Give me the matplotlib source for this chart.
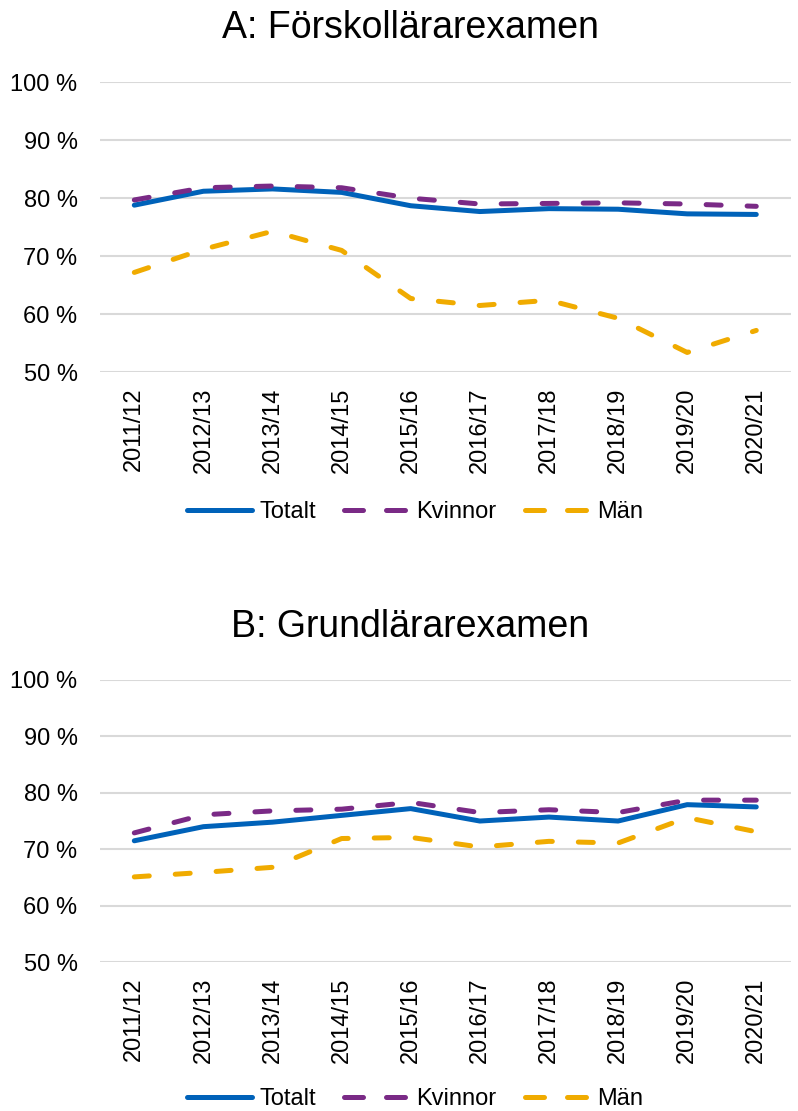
import matplotlib.pyplot as plt
from matplotlib.lines import Line2D

plt.rcParams['font.family'] = ['Liberation Sans', 'DejaVu Sans']

years = ["2011/12", "2012/13", "2013/14", "2014/15", "2015/16",
         "2016/17", "2017/18", "2018/19", "2019/20", "2020/21"]

# A: Förskollärarexamen
a_totalt = [78.8, 81.2, 81.6, 81.0, 78.7, 77.7, 78.2, 78.1, 77.3, 77.2]
a_kvinnor = [79.7, 81.8, 82.1, 81.8, 80.0, 79.0, 79.1, 79.2, 79.0, 78.6]
a_man = [67.2, 71.2, 74.3, 71.0, 62.7, 61.5, 62.4, 59.3, 53.4, 57.2]

# B: Grundlärarexamen
b_totalt = [71.5, 74.0, 74.8, 76.0, 77.2, 75.0, 75.7, 75.0, 77.9, 77.5]
b_kvinnor = [72.9, 76.1, 76.8, 77.1, 78.3, 76.5, 77.0, 76.5, 78.7, 78.7]
b_man = [65.1, 65.9, 66.8, 71.9, 72.1, 70.4, 71.4, 71.1, 75.6, 73.1]

blue = "#0062B9"
purple = "#7A2A86"
yellow = "#F0AB00"
lw = 3.6
dash = (3, 5.2)
leg_dash = (3.8, 4.6)
fs = 17

fig = plt.figure(figsize=(7.98, 11.11), dpi=100)


def draw(rect, totalt, kvinnor, man, title, title_y, legend_y):
    ax = fig.add_axes(rect)
    x = range(len(years))
    ax.plot(x, totalt, color=blue, lw=lw, solid_capstyle='round', zorder=3)
    ax.plot(x, kvinnor, color=purple, lw=lw, dashes=dash,
            dash_capstyle='round', zorder=3)
    ax.plot(x, man, color=yellow, lw=lw, dashes=dash,
            dash_capstyle='round', zorder=3)
    ax.set_xlim(-0.5, len(years) - 0.5)
    ax.set_ylim(50, 100)
    ax.set_yticks(range(50, 101, 10))
    ax.set_yticklabels([f"{v} %" for v in range(50, 101, 10)])
    ax.set_xticks(list(x))
    ax.set_xticklabels(years, rotation=90)
    ax.tick_params(axis='y', length=0, pad=16, labelsize=fs)
    ax.tick_params(axis='x', length=0, pad=11, labelsize=fs)
    ax.grid(axis='y', color="#D9D9D9", lw=1.5, zorder=0)
    for s in ax.spines.values():
        s.set_visible(False)
    fig.text(0.514, title_y, title, ha='center', va='center', fontsize=27)
    handles = [
        Line2D([], [], color=blue, lw=lw, solid_capstyle='round'),
        Line2D([], [], color=purple, lw=lw, dashes=leg_dash, dash_capstyle='round'),
        Line2D([], [], color=yellow, lw=lw, dashes=leg_dash, dash_capstyle='round'),
    ]
    fig.legend(handles, ["Totalt", "Kvinnor", "Män"], loc='center',
               bbox_to_anchor=(0.52, legend_y), ncol=3, frameon=False,
               fontsize=fs, handlelength=2.75, handletextpad=0.3,
               columnspacing=1.2)
    return ax


draw([0.125, 0.665, 0.866, 0.261], a_totalt, a_kvinnor, a_man,
     "A: Förskollärarexamen", 0.975, 0.539)
draw([0.125, 0.134, 0.866, 0.254], b_totalt, b_kvinnor, b_man,
     "B: Grundlärarexamen", 0.436, 0.011)

fig.savefig("out.png", dpi=100)
